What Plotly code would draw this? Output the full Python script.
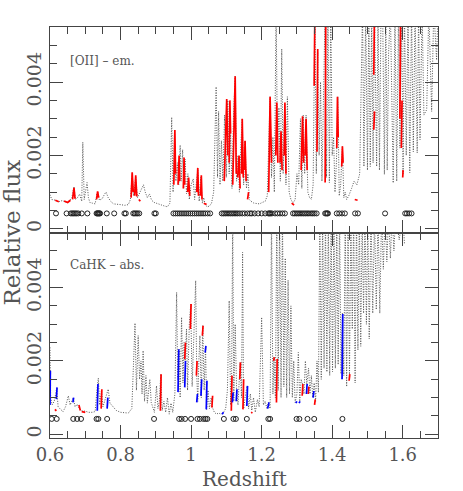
"""Relative flux vs redshift for [OII] emission and CaHK absorption."""

import plotly.graph_objects as go
from plotly.subplots import make_subplots

# ── Data: [OII] emission panel ─────────────────────────────────
OII_Z = [
    0.600, 0.605, 0.615, 0.625, 0.635, 0.645, 0.655, 0.662, 0.668, 0.672,
    0.678, 0.684, 0.690, 0.693, 0.697, 0.700, 0.705, 0.709, 0.713, 0.720,
    0.728, 0.733, 0.736, 0.740, 0.748, 0.755, 0.759, 0.765, 0.772, 0.780,
    0.790, 0.800, 0.812, 0.822, 0.828, 0.833, 0.837, 0.843, 0.848, 0.853,
    0.860, 0.865, 0.870, 0.876, 0.882, 0.888, 0.895, 0.905, 0.915, 0.925,
    0.933, 0.940, 0.945, 0.949, 0.953, 0.957, 0.961, 0.965, 0.969, 0.972,
    0.976, 0.979, 0.983, 0.987, 0.991, 0.995, 1.000, 1.006, 1.010, 1.014,
    1.019, 1.023, 1.027, 1.032, 1.036, 1.040, 1.046, 1.052, 1.058, 1.064,
    1.071, 1.075, 1.078, 1.082, 1.086, 1.090, 1.095, 1.100, 1.104, 1.108,
    1.112, 1.116, 1.120, 1.125, 1.129, 1.133, 1.137, 1.141, 1.145, 1.149,
    1.153, 1.157, 1.161, 1.165, 1.170, 1.178, 1.186, 1.194, 1.202, 1.210,
    1.216, 1.220, 1.224, 1.228, 1.232, 1.236, 1.241, 1.245, 1.249, 1.253,
    1.257, 1.261, 1.265, 1.269, 1.273, 1.278, 1.283, 1.289, 1.295, 1.300,
    1.305, 1.310, 1.314, 1.318, 1.322, 1.326, 1.331, 1.336, 1.341, 1.346,
    1.351, 1.355, 1.359, 1.363, 1.367, 1.371, 1.375, 1.380, 1.384, 1.388,
    1.392, 1.396, 1.400, 1.404, 1.408, 1.412, 1.416, 1.420, 1.424, 1.429,
    1.433, 1.437, 1.441, 1.447, 1.455, 1.462, 1.470, 1.478, 1.486, 1.490,
    1.495, 1.500, 1.504, 1.508, 1.512, 1.516, 1.520, 1.526, 1.530, 1.534,
    1.538, 1.543, 1.548, 1.552, 1.556, 1.560, 1.565, 1.573, 1.578, 1.583,
    1.588, 1.592, 1.597, 1.601, 1.605, 1.610, 1.615, 1.620, 1.625, 1.630,
    1.635, 1.641, 1.645, 1.649, 1.655, 1.660, 1.668, 1.674, 1.682, 1.688,
    1.696, 1.700,
]
OII_FLUX = [
    0.00093, 0.00080, 0.00078, 0.00074, 0.00077, 0.00072, 0.00076, 0.00085, 0.00115, 0.00080,
    0.00085, 0.00095, 0.00075, 0.00236, 0.00080, 0.00100, 0.00126, 0.00085, 0.00072, 0.00070,
    0.00068, 0.00095, 0.00100, 0.00078, 0.00082, 0.00095, 0.00100, 0.00085, 0.00075, 0.00068,
    0.00066, 0.00066, 0.00064, 0.00066, 0.00080, 0.00150, 0.00090, 0.00140, 0.00085, 0.00095,
    0.00110, 0.00120, 0.00100, 0.00085, 0.00095, 0.00078, 0.00072, 0.00068, 0.00065, 0.00062,
    0.00060, 0.00070, 0.00304, 0.00100, 0.00265, 0.00130, 0.00180, 0.00120, 0.00228, 0.00130,
    0.00216, 0.00110, 0.00190, 0.00095, 0.00150, 0.00080, 0.00120, 0.00136, 0.00080, 0.00110,
    0.00160, 0.00075, 0.00140, 0.00070, 0.00085, 0.00065, 0.00060, 0.00062, 0.00070, 0.00100,
    0.00387, 0.00140, 0.00320, 0.00120, 0.00240, 0.00130, 0.00310, 0.00140, 0.00350, 0.00150,
    0.00260, 0.00110, 0.00300, 0.00416, 0.00130, 0.00200, 0.00100, 0.00230, 0.00300, 0.00120,
    0.00240, 0.00110, 0.00150, 0.00080, 0.00075, 0.00070, 0.00068, 0.00068, 0.00072, 0.00075,
    0.00090, 0.00200, 0.00360, 0.00140, 0.00250, 0.00100, 0.00600, 0.00200, 0.00330, 0.00130,
    0.00490, 0.00150, 0.00340, 0.00120, 0.00360, 0.00100, 0.00080, 0.00070, 0.00080, 0.00150,
    0.00120, 0.00300, 0.00110, 0.00310, 0.00150, 0.00310, 0.00100, 0.00085, 0.00080, 0.00120,
    0.00600, 0.00150, 0.00480, 0.00200, 0.00400, 0.00130, 0.00350, 0.00600, 0.00140, 0.00600,
    0.00126, 0.00600, 0.00200, 0.00250, 0.00100, 0.00180, 0.00360, 0.00090, 0.00120, 0.00225,
    0.00085, 0.00100, 0.00080, 0.00090, 0.00110, 0.00130, 0.00120, 0.00150, 0.00600, 0.00170,
    0.00600, 0.00160, 0.00600, 0.00170, 0.00600, 0.00180, 0.00600, 0.00170, 0.00600, 0.00160,
    0.00550, 0.00600, 0.00148, 0.00600, 0.00160, 0.00480, 0.00600, 0.00125, 0.00600, 0.00130,
    0.00600, 0.00220, 0.00600, 0.00150, 0.00600, 0.00200, 0.00600, 0.00153, 0.00600, 0.00210,
    0.00600, 0.00207, 0.00600, 0.00243, 0.00600, 0.00310, 0.00325, 0.00600, 0.00320, 0.00600,
    0.00460, 0.00600,
]
OII_RED = [
    [(0.615, 0.00078), (0.625, 0.00074)],
    [(0.640, 0.00076), (0.650, 0.00072), (0.658, 0.00078)],
    [(0.664, 0.00080), (0.668, 0.00112), (0.671, 0.00082)],
    [(0.732, 0.00080), (0.735, 0.00102), (0.738, 0.00085)],
    [(0.830, 0.00085), (0.833, 0.00154), (0.836, 0.00100)],
    [(0.840, 0.00090), (0.843, 0.00146), (0.846, 0.00088)],
    [(0.852, 0.00080), (0.856, 0.00075)],
    [(0.951, 0.00120), (0.954, 0.00269), (0.956, 0.00150)],
    [(0.963, 0.00120), (0.966, 0.00200), (0.968, 0.00130)],
    [(0.978, 0.00110), (0.980, 0.00194), (0.982, 0.00120)],
    [(0.990, 0.00100), (0.993, 0.00140), (0.996, 0.00090)],
    [(1.016, 0.00100), (1.019, 0.00166), (1.021, 0.00090)],
    [(1.027, 0.00090), (1.029, 0.00146), (1.031, 0.00080)],
    [(1.036, 0.00070), (1.044, 0.00066)],
    [(1.094, 0.00130), (1.098, 0.00300), (1.101, 0.00354), (1.104, 0.00200)],
    [(1.108, 0.00180), (1.110, 0.00350), (1.112, 0.00260)],
    [(1.118, 0.00120), (1.122, 0.00300), (1.125, 0.00416), (1.128, 0.00150)],
    [(1.132, 0.00140), (1.136, 0.00200), (1.139, 0.00110)],
    [(1.143, 0.00150), (1.145, 0.00300), (1.148, 0.00140)],
    [(1.151, 0.00160), (1.153, 0.00240), (1.156, 0.00130)],
    [(1.160, 0.00080), (1.163, 0.00100)],
    [(1.220, 0.00100), (1.224, 0.00360), (1.228, 0.00180)],
    [(1.240, 0.00200), (1.243, 0.00344), (1.246, 0.00180)],
    [(1.252, 0.00180), (1.255, 0.00266), (1.258, 0.00160)],
    [(1.264, 0.00200), (1.266, 0.00344), (1.269, 0.00150)],
    [(1.285, 0.00070), (1.292, 0.00065)],
    [(1.312, 0.00160), (1.316, 0.00307), (1.319, 0.00180)],
    [(1.323, 0.00200), (1.326, 0.00300), (1.329, 0.00160)],
    [(1.349, 0.00390), (1.351, 0.00600)],
    [(1.357, 0.00210), (1.359, 0.00490)],
    [(1.380, 0.00126), (1.382, 0.00600)],
    [(1.413, 0.00220), (1.415, 0.00360), (1.417, 0.00250)],
    [(1.427, 0.00170), (1.429, 0.00225), (1.431, 0.00180)],
    [(1.464, 0.00080), (1.472, 0.00078)],
    [(1.518, 0.00420), (1.520, 0.00600)],
    [(1.518, 0.00270), (1.520, 0.00320)],
    [(1.592, 0.00300), (1.594, 0.00600)],
    [(1.596, 0.00220), (1.598, 0.00350)],
    [(1.600, 0.00140), (1.601, 0.00160)],
]
OII_DET_Z = [
    0.617, 0.647, 0.659, 0.663, 0.667, 0.671, 0.675, 0.680, 0.690, 0.706,
    0.732, 0.734, 0.736, 0.738, 0.740, 0.742, 0.761, 0.782, 0.811, 0.815,
    0.836, 0.840, 0.844, 0.848, 0.853, 0.896, 0.900, 0.950, 0.956, 0.962,
    0.968, 0.974, 0.980, 0.986, 0.992, 0.998, 1.004, 1.010, 1.016, 1.022,
    1.028, 1.034, 1.040, 1.047, 1.054, 1.087, 1.092, 1.097, 1.102, 1.107,
    1.112, 1.117, 1.122, 1.127, 1.132, 1.138, 1.145, 1.152, 1.160, 1.167,
    1.172, 1.180, 1.190, 1.200, 1.210, 1.219, 1.222, 1.225, 1.229, 1.238,
    1.245, 1.252, 1.259, 1.266, 1.289, 1.294, 1.299, 1.304, 1.309, 1.314,
    1.319, 1.324, 1.329, 1.334, 1.340, 1.345, 1.350, 1.356, 1.380, 1.383,
    1.386, 1.388, 1.413, 1.420, 1.428, 1.436, 1.465, 1.473, 1.550, 1.607,
    1.612, 1.618, 1.625,
]

# ── Data: CaHK absorption panel ────────────────────────────────
CAHK_Z = [
    0.600, 0.602, 0.606, 0.612, 0.619, 0.623, 0.630, 0.637, 0.644, 0.652,
    0.657, 0.662, 0.666, 0.671, 0.677, 0.683, 0.690, 0.700, 0.710, 0.720,
    0.728, 0.733, 0.737, 0.741, 0.746, 0.750, 0.755, 0.760, 0.765, 0.770,
    0.778, 0.788, 0.800, 0.812, 0.822, 0.832, 0.838, 0.841, 0.845, 0.850,
    0.854, 0.858, 0.861, 0.864, 0.868, 0.872, 0.876, 0.880, 0.883, 0.887,
    0.892, 0.896, 0.902, 0.906, 0.910, 0.914, 0.918, 0.923, 0.928, 0.933,
    0.938, 0.943, 0.948, 0.954, 0.959, 0.962, 0.966, 0.969, 0.973, 0.977,
    0.980, 0.983, 0.987, 0.990, 0.995, 0.999, 1.003, 1.008, 1.013, 1.016,
    1.019, 1.022, 1.025, 1.029, 1.033, 1.037, 1.041, 1.044, 1.048, 1.052,
    1.057, 1.061, 1.066, 1.072, 1.078, 1.085, 1.092, 1.098, 1.103, 1.108,
    1.112, 1.115, 1.118, 1.121, 1.125, 1.129, 1.133, 1.139, 1.143, 1.146,
    1.149, 1.153, 1.159, 1.163, 1.168, 1.172, 1.177, 1.182, 1.188, 1.193,
    1.200, 1.205, 1.210, 1.215, 1.219, 1.224, 1.228, 1.232, 1.235, 1.239,
    1.243, 1.247, 1.251, 1.255, 1.259, 1.263, 1.267, 1.271, 1.275, 1.279,
    1.283, 1.287, 1.291, 1.295, 1.300, 1.304, 1.308, 1.312, 1.316, 1.320,
    1.324, 1.328, 1.333, 1.337, 1.341, 1.345, 1.349, 1.353, 1.357, 1.361,
    1.365, 1.369, 1.373, 1.377, 1.381, 1.385, 1.389, 1.393, 1.397, 1.401,
    1.405, 1.409, 1.413, 1.417, 1.421, 1.425, 1.429, 1.433, 1.437, 1.441,
    1.445, 1.449, 1.453, 1.457, 1.461, 1.465, 1.469, 1.473, 1.477, 1.481,
    1.485, 1.489, 1.493, 1.497, 1.501, 1.505, 1.510, 1.515, 1.520, 1.525,
    1.530, 1.535, 1.540, 1.545, 1.550, 1.555, 1.560, 1.565, 1.570, 1.575,
    1.580, 1.590, 1.600, 1.605,
]
CAHK_FLUX = [
    0.00237, 0.00100, 0.00080, 0.00090, 0.00125, 0.00075, 0.00068, 0.00062, 0.00075, 0.00105,
    0.00080, 0.00090, 0.00100, 0.00075, 0.00082, 0.00070, 0.00064, 0.00063, 0.00060, 0.00060,
    0.00062, 0.00120, 0.00153, 0.00080, 0.00120, 0.00075, 0.00090, 0.00110, 0.00123, 0.00085,
    0.00075, 0.00065, 0.00060, 0.00060, 0.00058, 0.00070, 0.00200, 0.00303, 0.00120, 0.00269,
    0.00150, 0.00200, 0.00110, 0.00228, 0.00090, 0.00160, 0.00085, 0.00130, 0.00150, 0.00087,
    0.00075, 0.00060, 0.00132, 0.00070, 0.00090, 0.00164, 0.00065, 0.00090, 0.00060, 0.00100,
    0.00055, 0.00085, 0.00060, 0.00110, 0.00387, 0.00150, 0.00232, 0.00100, 0.00319, 0.00140,
    0.00250, 0.00200, 0.00287, 0.00120, 0.00300, 0.00355, 0.00130, 0.00250, 0.00419, 0.00160,
    0.00090, 0.00200, 0.00269, 0.00100, 0.00296, 0.00120, 0.00241, 0.00068, 0.00120, 0.00070,
    0.00100, 0.00072, 0.00060, 0.00055, 0.00058, 0.00055, 0.00060, 0.00070, 0.00120, 0.00364,
    0.00080, 0.00160, 0.00600, 0.00090, 0.00300, 0.00123, 0.00080, 0.00196, 0.00100, 0.00496,
    0.00070, 0.00100, 0.00132, 0.00070, 0.00110, 0.00065, 0.00100, 0.00060, 0.00095, 0.00075,
    0.00319, 0.00080, 0.00090, 0.00070, 0.00087, 0.00070, 0.00600, 0.00110, 0.00210, 0.00100,
    0.00600, 0.00120, 0.00600, 0.00100, 0.00600, 0.00130, 0.00480, 0.00100, 0.00420, 0.00110,
    0.00350, 0.00100, 0.00200, 0.00087, 0.00110, 0.00223, 0.00090, 0.00150, 0.00137, 0.00110,
    0.00200, 0.00137, 0.00180, 0.00110, 0.00160, 0.00100, 0.00140, 0.00090, 0.00200, 0.00114,
    0.00600, 0.00150, 0.00600, 0.00180, 0.00600, 0.00170, 0.00600, 0.00160, 0.00600, 0.00170,
    0.00600, 0.00180, 0.00600, 0.00190, 0.00600, 0.00165, 0.00330, 0.00160, 0.00600, 0.00130,
    0.00600, 0.00150, 0.00600, 0.00287, 0.00600, 0.00140, 0.00600, 0.00230, 0.00600, 0.00240,
    0.00600, 0.00330, 0.00600, 0.00300, 0.00600, 0.00260, 0.00600, 0.00330, 0.00600, 0.00340,
    0.00600, 0.00330, 0.00600, 0.00450, 0.00600, 0.00470, 0.00600, 0.00480, 0.00600, 0.00500,
    0.00600, 0.00530, 0.00600, 0.00520,
]
CAHK_RED = [
    [(0.614, 0.00068), (0.618, 0.00064)],
    [(0.682, 0.00080), (0.686, 0.00065)],
    [(0.690, 0.00062), (0.700, 0.00060)],
    [(0.745, 0.00070), (0.747, 0.00123)],
    [(0.913, 0.00064), (0.915, 0.00164)],
    [(0.982, 0.00205), (0.984, 0.00250)],
    [(0.998, 0.00287), (1.000, 0.00355)],
    [(1.015, 0.00160), (1.017, 0.00200)],
    [(1.032, 0.00269), (1.034, 0.00296)],
    [(1.059, 0.00073), (1.061, 0.00105)],
    [(1.114, 0.00064), (1.116, 0.00160)],
    [(1.138, 0.00150), (1.140, 0.00196)],
    [(1.147, 0.00068), (1.149, 0.00150)],
    [(1.170, 0.00060), (1.174, 0.00058)],
    [(1.234, 0.00200), (1.236, 0.00210)],
    [(1.242, 0.00087), (1.244, 0.00205)],
    [(1.315, 0.00105), (1.317, 0.00137)],
    [(1.332, 0.00110), (1.334, 0.00130)],
    [(1.350, 0.00080), (1.352, 0.00095)],
    [(1.448, 0.00146), (1.450, 0.00164)],
]
CAHK_BLUE = [
    [(0.600, 0.00080), (0.601, 0.00173)],
    [(0.618, 0.00096), (0.620, 0.00128)],
    [(0.665, 0.00087), (0.667, 0.00100)],
    [(0.734, 0.00064), (0.736, 0.00137)],
    [(0.762, 0.00070), (0.764, 0.00100)],
    [(0.963, 0.00115), (0.965, 0.00232)],
    [(0.982, 0.00128), (0.984, 0.00200)],
    [(1.016, 0.00087), (1.018, 0.00110)],
    [(1.028, 0.00105), (1.030, 0.00150)],
    [(1.040, 0.00223), (1.042, 0.00241)],
    [(1.043, 0.00068), (1.045, 0.00146)],
    [(1.088, 0.00055), (1.092, 0.00060)],
    [(1.117, 0.00087), (1.119, 0.00114)],
    [(1.128, 0.00090), (1.130, 0.00123)],
    [(1.158, 0.00077), (1.160, 0.00132)],
    [(1.217, 0.00070), (1.221, 0.00087)],
    [(1.297, 0.00085), (1.300, 0.00090)],
    [(1.306, 0.00085), (1.309, 0.00090)],
    [(1.327, 0.00110), (1.329, 0.00137)],
    [(1.346, 0.00100), (1.348, 0.00118)],
    [(1.428, 0.00150), (1.430, 0.00328)],
]
CAHK_DET_Z = [
    0.605, 0.619, 0.666, 0.677, 0.688, 0.732, 0.737, 0.762, 0.895, 0.966,
    0.973, 0.983, 1.000, 1.018, 1.025, 1.035, 1.041, 1.046, 1.093, 1.120,
    1.127, 1.158, 1.219, 1.224, 1.299, 1.307, 1.330, 1.349, 1.429,
]
DET_LEVEL = 0.00042

# ── Style ──────────────────────────────────────────────────────
C_AXIS = "#444444"
C_TEXT = "#555555"
FONT = "DejaVu Serif"


def _segments(segs):
    xs, ys = [], []
    for seg in segs:
        for z, f in seg:
            xs.append(z)
            ys.append(f)
        xs.append(None)
        ys.append(None)
    return xs, ys


def _add_panel(fig, row, z, flux, colored, det_z):
    fig.add_trace(
        go.Scatter(
            x=z, y=flux, mode="lines",
            line=dict(color="#555555", width=1, dash="1px,1.5px"),
            showlegend=False, hoverinfo="skip",
        ),
        row=row, col=1,
    )
    for segs, color in colored:
        xs, ys = _segments(segs)
        fig.add_trace(
            go.Scatter(
                x=xs, y=ys, mode="lines",
                line=dict(color=color, width=1.7),
                showlegend=False, hoverinfo="skip",
            ),
            row=row, col=1,
        )
    fig.add_trace(
        go.Scatter(
            x=det_z, y=[DET_LEVEL] * len(det_z), mode="markers",
            marker=dict(symbol="circle-open", size=5, color="#222222",
                        line=dict(width=1, color="#222222")),
            showlegend=False, hoverinfo="skip",
        ),
        row=row, col=1,
    )


fig = make_subplots(rows=2, cols=1, shared_xaxes=True, vertical_spacing=0)
_add_panel(fig, 1, OII_Z, OII_FLUX, [(OII_RED, "#ff0000")], OII_DET_Z)
_add_panel(fig, 2, CAHK_Z, CAHK_FLUX,
           [(CAHK_RED, "#ff0000"), (CAHK_BLUE, "#0000ff")], CAHK_DET_Z)

axis_common = dict(
    showline=True, linecolor=C_AXIS, linewidth=1, mirror="allticks",
    ticks="inside", tickcolor=C_AXIS, showgrid=False, zeroline=False,
    automargin=False,
    tickfont=dict(family=FONT, size=19, color=C_TEXT),
)
fig.update_xaxes(
    range=[0.6, 1.7], tick0=0.6, dtick=0.2, ticklen=13,
    minor=dict(dtick=0.05, tick0=0.6, ticklen=7, ticks="inside", tickcolor=C_AXIS),
    **axis_common,
)
fig.update_xaxes(showticklabels=False, row=1, col=1)
fig.update_xaxes(
    ticklabelstandoff=0, tickfont=dict(family=FONT, size=18, color=C_TEXT),
    row=2, col=1,
)
fig.update_yaxes(
    range=[-0.0001, 0.0055], tick0=0, dtick=0.002, ticklen=13, tickangle=-90,
    minor=dict(dtick=0.0005, tick0=0, ticklen=7, ticks="inside", tickcolor=C_AXIS),
    **axis_common,
)

fig.add_annotation(
    x=0.5, y=-0.0998, xref="paper", yref="paper", text="Redshift",
    showarrow=False, xanchor="center", yanchor="middle",
    font=dict(family=FONT, size=20, color=C_TEXT),
)
fig.add_annotation(
    x=-0.098, y=0.5, xref="paper", yref="paper", text="Relative flux",
    textangle=-90, showarrow=False, xanchor="center", yanchor="middle",
    font=dict(family=FONT, size=23, color=C_TEXT),
)
fig.add_annotation(
    x=0.046, y=0.917, xref="paper", yref="paper", text="[OII] – em.",
    showarrow=False, xanchor="left", yanchor="middle",
    font=dict(family=FONT, size=12, color=C_TEXT),
)
fig.add_annotation(
    x=0.046, y=0.421, xref="paper", yref="paper", text="CaHK – abs.",
    showarrow=False, xanchor="left", yanchor="middle",
    font=dict(family=FONT, size=12, color=C_TEXT),
)

fig.update_layout(
    width=463, height=491,
    margin=dict(l=50, r=25, t=27, b=53),
    plot_bgcolor="white", paper_bgcolor="white",
    showlegend=False,
)

# the page's default body margin would shift the figure by 8 px
fig.write_html(
    "out.html",
    config={"displayModeBar": False},
    post_script="document.body.style.margin = '0px';",
)
